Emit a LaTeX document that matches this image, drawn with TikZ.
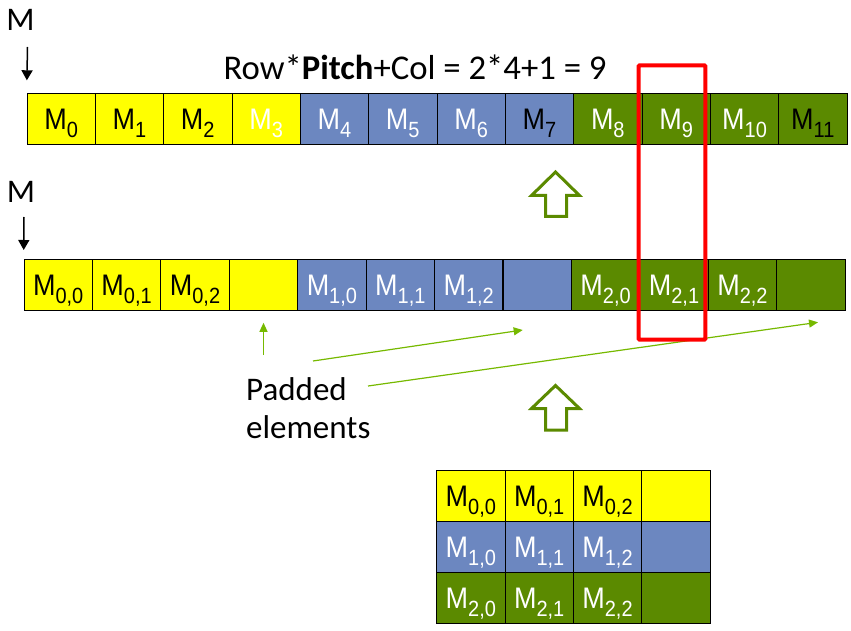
\documentclass[tikz,border=0pt]{standalone}
\usepackage{fontspec}
\usepackage{graphicx}
\setmainfont{Carlito}
\newfontfamily\cellfont{Liberation Sans}
\usetikzlibrary{arrows.meta}
\definecolor{cellYellow}{RGB}{255, 255, 0}
\definecolor{cellBlue}{RGB}{108, 135, 192}
\definecolor{cellGreen}{RGB}{91, 138, 0}
\definecolor{padGreen}{RGB}{118, 185, 0}
\definecolor{pickRed}{RGB}{255, 0, 0}

\newcommand{\melem}[1]{\scalebox{1}[1.1]{{\fontsize{27}{27}\selectfont M}\raisebox{-7.3pt}{\fontsize{20}{20}\selectfont #1}}}

\begin{document}
\begin{tikzpicture}[x=1pt, y=-1pt,
    cell/.style={draw=black, line width=0.8pt, minimum width=68.33pt, minimum height=51pt, inner sep=0pt, text height=21pt, text depth=0pt, font=\cellfont},
    ptr/.style={-{Triangle[length=10pt, width=11pt]}, line width=1.5pt, black},
    padptr/.style={-{Triangle[length=9pt, width=8pt]}, line width=1.2pt, padGreen},
    bigarrow/.style={draw=cellGreen, line width=3pt, fill=white, line join=miter}]
    \useasboundingbox (0,0) rectangle (851,631);

    % Pointer labels
    \node[font=\fontsize{33}{33}\selectfont, anchor=base, inner sep=0pt] (mtop) at (20.5,30.7) {M};
    \node[font=\fontsize{33}{33}\selectfont, anchor=base, inner sep=0pt] (mmid) at (21,202.7) {M};
    \coordinate (mtopTail) at (27.5,47);
    \coordinate (mmidTail) at (24,217);

    % Formula
    \node[font=\fontsize{34.7}{34.7}\selectfont, anchor=base, inner sep=0pt] (formula) at (415,80) {Row*\textbf{Pitch}+Col = 2*4+1 = 9};

    % Flat array
    \node[cell, fill=cellYellow] (m0) at (61.2,119.2) {\melem{0}};
    \node[cell, fill=cellYellow] (m1) at (129.5,119.2) {\melem{1}};
    \node[cell, fill=cellYellow] (m2) at (197.8,119.2) {\melem{2}};
    \node[cell, fill=cellYellow, text=white] (m3) at (266.2,119.2) {\melem{3}};
    \node[cell, fill=cellBlue, text=white] (m4) at (334.5,119.2) {\melem{4}};
    \node[cell, fill=cellBlue, text=white] (m5) at (402.8,119.2) {\melem{5}};
    \node[cell, fill=cellBlue, text=white] (m6) at (471.2,119.2) {\melem{6}};
    \node[cell, fill=cellBlue] (m7) at (539.5,119.2) {\melem{7}};
    \node[cell, fill=cellGreen, text=white] (m8) at (607.8,119.2) {\melem{8}};
    \node[cell, fill=cellGreen, text=white] (m9) at (676.2,119.2) {\melem{9}};
    \node[cell, fill=cellGreen, text=white] (m10) at (744.5,119.2) {\melem{10}};
    \node[cell, fill=cellGreen] (m11) at (812.8,119.2) {\melem{11}};

    % Padded rows in memory
    \node[cell, fill=cellYellow] (r0) at (58.2,284.9) {\melem{0,0}};
    \node[cell, fill=cellYellow] (r1) at (126.6,284.9) {\melem{0,1}};
    \node[cell, fill=cellYellow] (r2) at (195.0,284.9) {\melem{0,2}};
    \node[cell, fill=cellYellow] (r3) at (263.5,284.9) {};
    \node[cell, fill=cellBlue, text=white] (r4) at (331.9,284.9) {\melem{1,0}};
    \node[cell, fill=cellBlue, text=white] (r5) at (400.3,284.9) {\melem{1,1}};
    \node[cell, fill=cellBlue, text=white] (r6) at (468.7,284.9) {\melem{1,2}};
    \node[cell, fill=cellBlue] (r7) at (537.1,284.9) {};
    \node[cell, fill=cellGreen, text=white] (r8) at (605.6,284.9) {\melem{2,0}};
    \node[cell, fill=cellGreen, text=white] (r9) at (674.0,284.9) {\melem{2,1}};
    \node[cell, fill=cellGreen, text=white] (r10) at (742.4,284.9) {\melem{2,2}};
    \node[cell, fill=cellGreen] (r11) at (810.8,284.9) {};

    % 2D matrix
    \node[cell, fill=cellYellow] (g00) at (470.8,496.2) {\melem{0,0}};
    \node[cell, fill=cellYellow] (g01) at (539.2,496.2) {\melem{0,1}};
    \node[cell, fill=cellYellow] (g02) at (607.5,496.2) {\melem{0,2}};
    \node[cell, fill=cellYellow] (g03) at (675.8,496.2) {};
    \node[cell, fill=cellBlue, text=white] (g10) at (470.8,547.2) {\melem{1,0}};
    \node[cell, fill=cellBlue, text=white] (g11) at (539.2,547.2) {\melem{1,1}};
    \node[cell, fill=cellBlue, text=white] (g12) at (607.5,547.2) {\melem{1,2}};
    \node[cell, fill=cellBlue] (g13) at (675.8,547.2) {};
    \node[cell, fill=cellGreen, text=white] (g20) at (470.8,598.2) {\melem{2,0}};
    \node[cell, fill=cellGreen, text=white] (g21) at (539.2,598.2) {\melem{2,1}};
    \node[cell, fill=cellGreen, text=white] (g22) at (607.5,598.2) {\melem{2,2}};
    \node[cell, fill=cellGreen] (g23) at (675.8,598.2) {};

    % Padded elements note
    \node[font=\fontsize{33}{38}\selectfont, align=left, anchor=north west, inner sep=0pt] (padded) at (246,377.5) {Padded\\elements};
    \coordinate (padTail1) at (263.5,355);
    \coordinate (padTail2) at (313,361);
    \coordinate (padTail3) at (368,386);
    \coordinate (padTip2) at (522.7,330);
    \coordinate (padTip3) at (818,322.3);

    % Arrows
    \draw[ptr] (mtopTail) -- (m0.north west) [shorten >=13pt];
    \draw[ptr] (mmidTail) -- (r0.north west) [shorten >=9pt];
    \draw[padptr] (padTail1) -- (r3.south) [shorten >=12pt];
    \draw[padptr] (padTail2) -- (padTip2);
    \draw[padptr] (padTail3) -- (padTip3);

    % Block arrows
    \draw[bigarrow] (555.5,172) -- (579.5,195.5) -- (566.5,195.5) -- (566.5,216.5) -- (545.5,216.5) -- (545.5,195.5) -- (531.5,195.5) -- cycle;
    \draw[bigarrow] (555.5,385.5) -- (579.5,408.5) -- (566.5,408.5) -- (566.5,430) -- (545.5,430) -- (545.5,408.5) -- (531.5,408.5) -- cycle;

    % Highlighted element
    \node[draw=pickRed, line width=4pt, rounded corners=1pt, minimum width=66.6pt, minimum height=274.4pt, inner sep=0pt] (pick) at (672,202.5) {};
\end{tikzpicture}
\end{document}
